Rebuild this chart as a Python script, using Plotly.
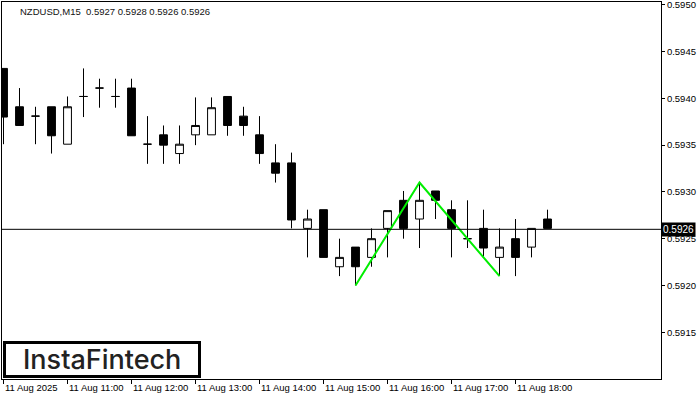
import plotly.graph_objects as go

# ---- data ----
times = [
    "2025-08-11 10:00", "2025-08-11 10:15", "2025-08-11 10:30", "2025-08-11 10:45",
    "2025-08-11 11:00", "2025-08-11 11:15", "2025-08-11 11:30", "2025-08-11 11:45",
    "2025-08-11 12:00", "2025-08-11 12:15", "2025-08-11 12:30", "2025-08-11 12:45",
    "2025-08-11 13:00", "2025-08-11 13:15", "2025-08-11 13:30", "2025-08-11 13:45",
    "2025-08-11 14:00", "2025-08-11 14:15", "2025-08-11 14:30", "2025-08-11 14:45",
    "2025-08-11 15:00", "2025-08-11 15:15", "2025-08-11 15:30", "2025-08-11 15:45",
    "2025-08-11 16:00", "2025-08-11 16:15", "2025-08-11 16:30", "2025-08-11 16:45",
    "2025-08-11 17:00", "2025-08-11 17:15", "2025-08-11 17:30", "2025-08-11 17:45",
    "2025-08-11 18:00", "2025-08-11 18:15", "2025-08-11 18:30",
]
opens = [
    0.59432, 0.59391, 0.59381, 0.59391, 0.59351, 0.59402, 0.59411, 0.59402,
    0.59411, 0.59351, 0.59361, 0.59341, 0.59361, 0.59361, 0.59402, 0.59381,
    0.59361, 0.59331, 0.59331, 0.59261, 0.59281, 0.59220, 0.59241, 0.59230,
    0.59261, 0.59291, 0.59271, 0.59301, 0.59281, 0.59250, 0.59261, 0.59230,
    0.59250, 0.59241, 0.59271,
]
highs = [
    0.59432, 0.59411, 0.59391, 0.59391, 0.59402, 0.59432, 0.59421, 0.59421,
    0.59421, 0.59381, 0.59371, 0.59371, 0.59401, 0.59401, 0.59402, 0.59391,
    0.59381, 0.59351, 0.59342, 0.59281, 0.59281, 0.59250, 0.59241, 0.59261,
    0.59280, 0.59301, 0.59310, 0.59301, 0.59291, 0.59291, 0.59281, 0.59261,
    0.59271, 0.59261, 0.59281,
]
lows = [
    0.59351, 0.59371, 0.59351, 0.59341, 0.59351, 0.59380, 0.59390, 0.59390,
    0.59360, 0.59330, 0.59330, 0.59330, 0.59350, 0.59361, 0.59360, 0.59360,
    0.59330, 0.59310, 0.59261, 0.59230, 0.59230, 0.59210, 0.59200, 0.59220,
    0.59230, 0.59250, 0.59240, 0.59271, 0.59230, 0.59240, 0.59231, 0.59210,
    0.59210, 0.59230, 0.59261,
]
closes = [
    0.59380, 0.59371, 0.59381, 0.59360, 0.59391, 0.59402, 0.59411, 0.59402,
    0.59360, 0.59351, 0.59350, 0.59351, 0.59371, 0.59390, 0.59371, 0.59371,
    0.59341, 0.59320, 0.59270, 0.59271, 0.59230, 0.59230, 0.59220, 0.59250,
    0.59280, 0.59261, 0.59291, 0.59291, 0.59261, 0.59250, 0.59240, 0.59241,
    0.59230, 0.59261, 0.59261,
]
# double-top pattern points (time, price)
pattern_times = ["2025-08-11 15:30", "2025-08-11 16:30", "2025-08-11 17:45"]
pattern_prices = [0.59200, 0.59310, 0.59210]

last_price = 0.5926
title_text = "NZDUSD,M15  0.5927 0.5928 0.5926 0.5926"

x_tick_vals = [
    "2025-08-11 10:00", "2025-08-11 11:00", "2025-08-11 12:00", "2025-08-11 13:00",
    "2025-08-11 14:00", "2025-08-11 15:00", "2025-08-11 16:00", "2025-08-11 17:00",
    "2025-08-11 18:00",
]
x_tick_text = [
    "11 Aug 2025", "11 Aug 11:00", "11 Aug 12:00", "11 Aug 13:00", "11 Aug 14:00",
    "11 Aug 15:00", "11 Aug 16:00", "11 Aug 17:00", "11 Aug 18:00",
]
y_tick_vals = [0.5915, 0.5920, 0.5925, 0.5930, 0.5935, 0.5940, 0.5945, 0.5950]
y_tick_text = ["0.5915", "0.5920", "0.5925", "0.5930", "0.5935", "0.5940", "0.5945", "0.5950"]

FONT = "Liberation Sans"

fig = go.Figure()
fig.add_trace(go.Candlestick(
    x=times, open=opens, high=highs, low=lows, close=closes,
    increasing=dict(line=dict(color="black", width=1), fillcolor="white"),
    decreasing=dict(line=dict(color="black", width=1), fillcolor="black"),
    whiskerwidth=0, hoverinfo="skip",
))
fig.add_trace(go.Scatter(
    x=pattern_times, y=pattern_prices, mode="lines",
    line=dict(color="#00ee00", width=2), hoverinfo="skip",
))

fig.add_shape(type="line", xref="paper", x0=0, x1=1, yref="y", y0=last_price, y1=last_price,
              line=dict(color="black", width=1))

# logo box
fig.add_shape(type="rect", xref="paper", yref="paper", x0=0.0038, x1=0.2997, y0=0.0066, y1=0.0968,
              line=dict(color="black", width=3), fillcolor="white", layer="below")
fig.add_annotation(xref="paper", yref="paper", x=0.151, y=0.052, xanchor="center", yanchor="middle",
                   text="InstaFintech", showarrow=False,
                   font=dict(family="Inter", size=27, weight=500, color="#222222"))

fig.add_annotation(xref="paper", yref="paper", x=0.024, y=0.976, xanchor="left", yanchor="middle",
                   text=title_text, showarrow=False, font=dict(family=FONT, size=9.5, color="#111111"))

# current price label
fig.add_annotation(xref="paper", yref="y", x=1, y=last_price, xanchor="left", yanchor="middle",
                   xshift=0, text=f"{last_price:.4f}", showarrow=False, bgcolor="black",
                   borderpad=1, font=dict(family=FONT, size=10, color="white"))

for tv, tt in zip(x_tick_vals, x_tick_text):
    fig.add_annotation(xref="x", yref="paper", x=tv, y=0, xanchor="left", yanchor="top",
                       yshift=-1, xshift=-1, text=tt, showarrow=False,
                       font=dict(family=FONT, size=9.5, color="black"))

fig.update_layout(
    width=700, height=400,
    margin=dict(l=2, r=39, t=2, b=21),
    paper_bgcolor="white", plot_bgcolor="white",
    showlegend=False,
    xaxis=dict(
        type="date",
        range=["2025-08-11 09:58:35", "2025-08-11 20:16:24"],
        rangeslider=dict(visible=False),
        showgrid=False, zeroline=False,
        showline=True, mirror=True, linecolor="black", linewidth=1,
        tickvals=x_tick_vals, showticklabels=False,
        ticks="outside", ticklen=4, tickcolor="black", tickwidth=1,
        automargin=False,
    ),
    yaxis=dict(
        side="right",
        range=[0.59100, 0.59503],
        showgrid=False, zeroline=False,
        showline=True, mirror=True, linecolor="black", linewidth=1,
        tickvals=y_tick_vals, ticktext=y_tick_text,
        ticks="outside", ticklen=3, tickcolor="black", tickwidth=1,
        tickfont=dict(family=FONT, size=9.5, color="black"),
        ticklabeloverflow="allow",
        automargin=False,
    ),
)

fig.write_html("out.html", config={"displayModeBar": False},
               post_script="document.body.style.margin='0';document.body.style.overflow='hidden';")
